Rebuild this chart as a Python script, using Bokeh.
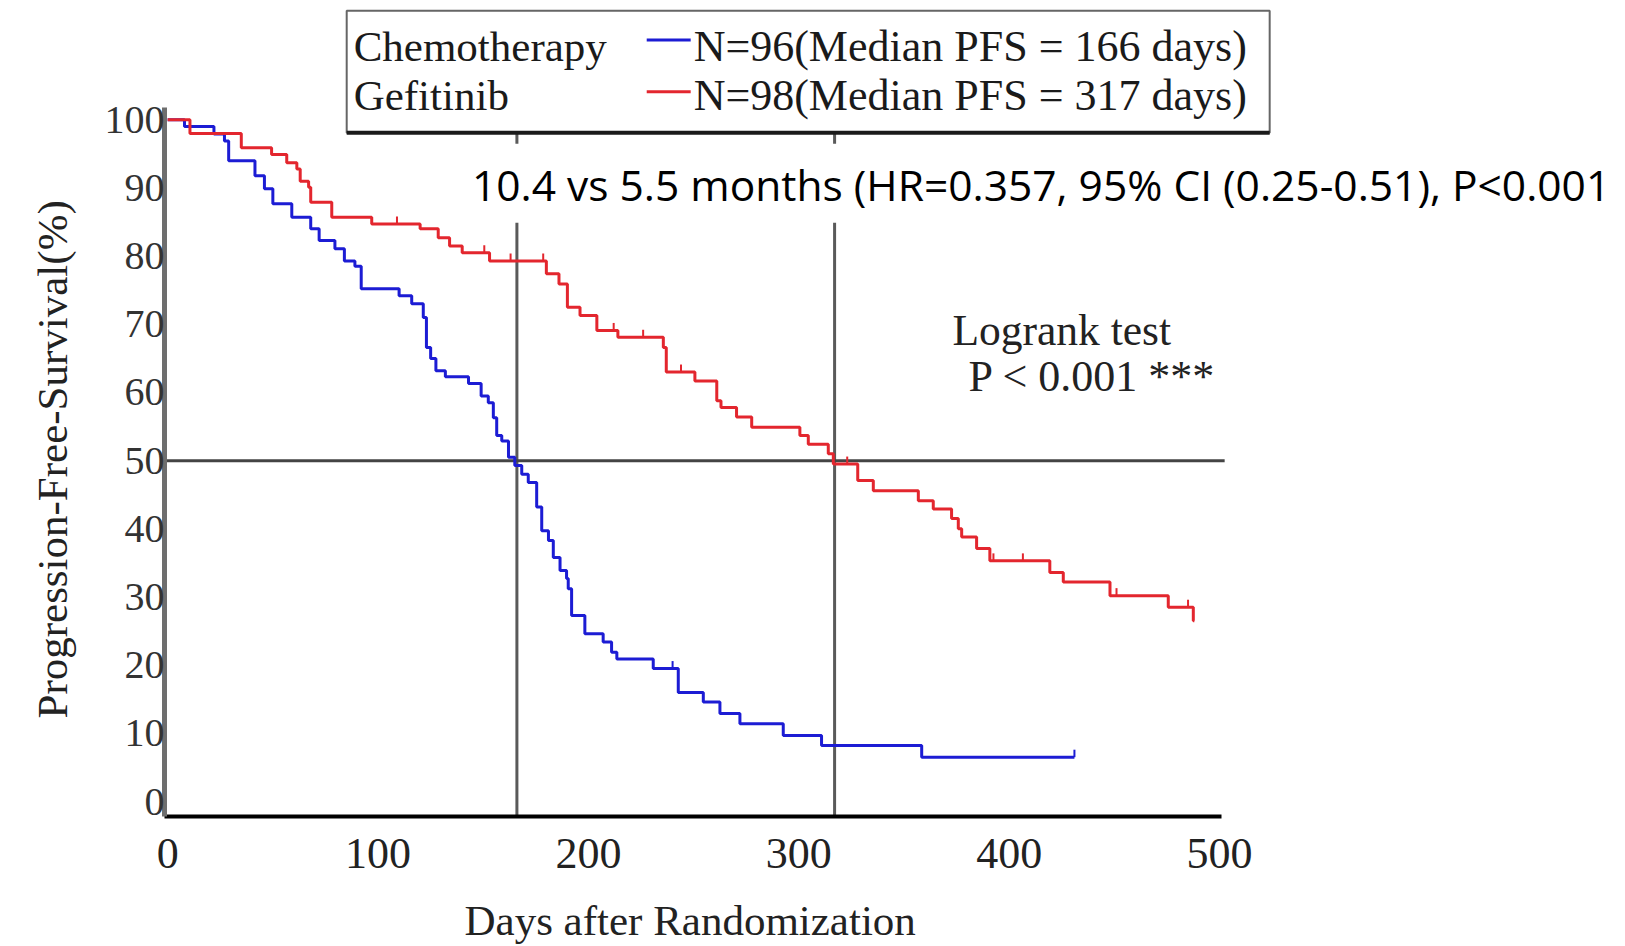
import numpy as np
from bokeh.plotting import figure
from bokeh.models import Range1d, FixedTicker, Label, Title
from bokeh.embed import file_html
from bokeh.resources import INLINE

# ---------------- data ----------------
chemo_days = [0, 8, 22, 27, 29, 41.5, 46, 50, 59, 68, 72, 79.5, 84, 89, 92, 110, 116, 121.5,
              123, 125, 127.5, 132, 143, 149, 152.4, 154.8, 156.4, 158.8, 162, 165, 168.3,
              171.4, 175.4, 177.8, 181, 183.3, 186.5, 189.6, 190.4, 192, 198.3, 207, 211,
              213.5, 230.8, 242.7, 254.6, 262.5, 272, 292.6, 310.8, 358.4, 431]
chemo_pfs = [100, 99.0, 97.9, 96.9, 94.0, 91.8, 89.9, 87.7, 85.7, 84.0, 82.3, 81.1, 79.3, 78.5,
             75.2, 74.2, 73.0, 71.0, 66.6, 65.0, 63.2, 62.3, 61.3, 59.5, 58.5, 56.3, 53.7, 52.9,
             50.5, 49.3, 48.0, 46.8, 43.2, 39.7, 38.3, 35.8, 33.9, 32.7, 31.2, 27.3, 24.6, 23.4,
             21.9, 20.9, 19.5, 16.0, 14.6, 12.9, 11.4, 9.7, 8.2, 6.5, 6.5]
chemo_censor = [110, 240, 431]

gef_days = [0, 10.6, 35, 49.4, 56.6, 61.4, 63, 67, 68, 78, 97, 120, 128.6, 134, 140, 153, 180,
            186, 190, 196, 204, 214, 235.6, 237, 250.6, 261, 263, 270.4, 277.6, 300.5, 304.5,
            314, 316.4, 328, 335.4, 356.8, 363.9, 372.6, 375.8, 377.4, 384.5, 390.8, 419.3,
            425.7, 447.9, 475.6, 487.5, 488]
gef_pfs = [100, 98.0, 95.9, 94.9, 93.7, 92.8, 91.0, 90.1, 87.9, 85.7, 84.7, 84.0, 82.7, 81.5,
           80.5, 79.3, 77.4, 75.9, 72.5, 71.3, 69.1, 68.1, 66.6, 63.0, 61.7, 58.8, 57.8, 56.4,
           54.9, 53.7, 52.4, 51.0, 49.5, 47.1, 45.6, 44.1, 42.9, 41.5, 40.0, 38.8, 37.1, 35.3,
           33.6, 32.2, 30.2, 28.5, 26.5, 26.5]
gef_censor = [109, 150.5, 163, 178.5, 212, 226, 244, 323, 392.5, 406.5, 451, 485]

medians = [166, 317]
median_level = 50

x_ticks = [0, 100, 200, 300, 400, 500]
y_ticks = [0, 10, 20, 30, 40, 50, 60, 70, 80, 90, 100]

x_label = "Days after Randomization"
y_label = "Progression-Free-Survival(%)"
group_names = ["Chemotherapy", "Gefitinib"]
group_labels = ["N=96(Median PFS = 166 days)", "N=98(Median PFS = 317 days)"]
annotation = "10.4 vs 5.5 months (HR=0.357, 95% CI (0.25-0.51), P<0.001"
test_lines = ["Logrank test", "P < 0.001 ***"]

BLUE = "#1c1cd4"
RED = "#e3262e"
SERIF = "Liberation Serif"


def censor_levels(days, pfs, marks):
    idx = np.searchsorted(np.asarray(days), np.asarray(marks), side="right") - 1
    return [pfs[i] for i in idx]


# ---------------- figure ----------------
p = figure(frame_width=1458, frame_height=816,
           min_border_left=162, min_border_right=0, min_border_top=0, min_border_bottom=128,
           x_range=Range1d(-1.5, 691.5), y_range=Range1d(-2.2, 117.5),
           output_backend="svg", toolbar_location=None)
p.outline_line_color = None
p.grid.visible = False
p.background_fill_color = "white"
p.border_fill_color = "white"

# x axis (drawn only over 0..500)
p.xaxis.ticker = FixedTicker(ticks=x_ticks)
p.xaxis.bounds = (-1.5, 501)
p.xaxis.axis_line_color = "black"
p.xaxis.axis_line_width = 4
p.xaxis.major_tick_line_color = None
p.xaxis.minor_tick_line_color = None
p.xaxis.major_label_standoff = 16
p.xaxis.major_label_text_font = SERIF
p.xaxis.major_label_text_font_size = "44px"
p.xaxis.major_label_text_color = "#222222"

# y axis (drawn only over 0..100)
p.yaxis.ticker = FixedTicker(ticks=y_ticks)
p.yaxis.bounds = (-2.2, 101.8)
p.yaxis.axis_line_color = "#6e6e6e"
p.yaxis.axis_line_width = 5
p.yaxis.major_tick_line_color = None
p.yaxis.minor_tick_line_color = None
p.yaxis.major_label_standoff = -6
p.yaxis.major_label_text_font = SERIF
p.yaxis.major_label_text_font_size = "40px"
p.yaxis.major_label_text_color = "#333333"

# axis titles, positioned relative to the drawn part of the axes
p.add_layout(Title(text=x_label, align="left", offset=300, standoff=48,
                   text_font=SERIF, text_font_size="43px", text_font_style="normal",
                   text_color="#222222"), "below")
p.add_layout(Title(text=y_label, align="left", offset=98, standoff=52,
                   text_font=SERIF, text_font_size="43px", text_font_style="normal",
                   text_color="#222222"), "left")

# reference lines at the medians
p.segment(x0=medians, y0=[-2.2, -2.2], x1=medians, y1=[98.1, 98.1],
          line_color="#5a5a5a", line_width=3)
p.segment(x0=[-1.5], y0=[median_level], x1=[502.4], y1=[median_level],
          line_color="#444444", line_width=3)

# white backing for the annotation text (hides the median lines there)
p.quad(left=[142], right=[691.5], top=[96.5], bottom=[84.9],
       fill_color="white", line_color=None)

# survival curves
p.step(x=chemo_days, y=chemo_pfs, mode="after", line_color=BLUE, line_width=3)
p.step(x=gef_days, y=gef_pfs, mode="after", line_color=RED, line_width=3)

# censor ticks
cy = censor_levels(chemo_days, chemo_pfs, chemo_censor)
p.segment(x0=chemo_censor, y0=cy, x1=chemo_censor, y1=[v + 1.1 for v in cy],
          line_color=BLUE, line_width=2)
gy = censor_levels(gef_days, gef_pfs, gef_censor)
p.segment(x0=gef_censor, y0=gy, x1=gef_censor, y1=[v + 1.1 for v in gy],
          line_color=RED, line_width=2)

# legend box
p.quad(left=[85.1], right=[523.8], top=[116.0], bottom=[98.1],
       fill_color="white", line_color="#666666", line_width=2)
p.segment(x0=[85.1], y0=[98.1], x1=[523.8], y1=[98.1], line_color="#1a1a1a", line_width=4)
p.segment(x0=[227.7, 227.7], y0=[111.7, 104.1], x1=[248.6, 248.6], y1=[111.7, 104.1],
          line_color=[BLUE, RED], line_width=3)
for name, lab, yc in zip(group_names, group_labels, [110.8, 103.5]):
    p.add_layout(Label(x=88.4, y=yc, text=name, text_font=SERIF, text_font_size="43px",
                       text_baseline="middle", text_align="left", text_color="#1a1a1a"))
    p.add_layout(Label(x=250.0, y=yc, text=lab, text_font=SERIF, text_font_size="44px",
                       text_baseline="middle", text_align="left", text_color="#1a1a1a"))

# annotation text
p.add_layout(Label(x=144.6, y=90.55, text=annotation, text_font="Open Sans",
                   text_font_size="42.5px", text_baseline="middle", text_align="left",
                   text_color="black"))

# log-rank text
p.add_layout(Label(x=373, y=69.1, text=test_lines[0], text_font=SERIF, text_font_size="43.5px",
                   text_baseline="middle", text_align="left", text_color="#222222"))
p.add_layout(Label(x=380.7, y=62.3, text=test_lines[1], text_font=SERIF, text_font_size="44px",
                   text_baseline="middle", text_align="left", text_color="#222222"))

open("out.html", "w").write(file_html(p, INLINE))
